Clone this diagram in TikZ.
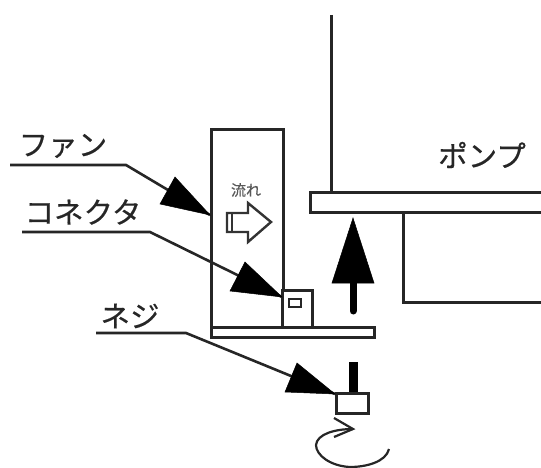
\documentclass[tikz,border=0pt]{standalone}
\usepackage{fontspec}
\newfontfamily\jpfont[FakeBold=0.4]{Noto Sans CJK JP}
\tikzset{
  every path/.style={line join=miter},
  part/.style={draw=black!85,line width=3pt,fill=white,inner sep=0pt,outer sep=0pt,minimum width=0pt},
  leader/.style={draw=black!85,line width=2.6pt},
  solidhead/.style={fill=black,draw=black,line width=.5pt,line join=miter},
  label/.style={font=\jpfont\fontsize{29.5}{29.5}\selectfont,text=black!85,inner sep=0pt,anchor=center},
}
\begin{document}
\begin{tikzpicture}[x=1pt,y=-1pt]
\useasboundingbox (0,0) rectangle (541,468);
% pump
\draw[part] (331,15) -- (331,192);
\draw[part,fill=none] (541,212) -- (403,212) -- (403,302) -- (541,302);
\draw[part] (541,192) -- (310,192) -- (310,212) -- (541,212);
% fan and plate
\node[part,minimum width=72pt,minimum height=197pt] (fan) at (247,228.5) {};
\node[part,minimum width=30pt,minimum height=37pt] (conn) at (297,308.5) {};
\node[part,line width=2pt,minimum width=12pt,minimum height=8pt] (slot) at (295,303) {};
\node[part,minimum width=163pt,minimum height=10pt] (plate) at (292.5,332) {};
% flow arrow
\draw[draw=black!80,line width=2.4pt,fill=white] (227,213) -- (248,213) -- (248,203) -- (271,222) -- (248,242) -- (248,232) -- (227,232) -- cycle;
\draw[draw=black!80,line width=2pt] (232,213) -- (232,232);
\node[font=\jpfont\fontsize{15}{15}\selectfont,text=black!65,inner sep=0pt] (flow) at (246,190) {流れ};
% up arrow
\draw[black,line width=7pt,line cap=round] (353,280) -- (353,311);
\fill[solidhead] (353,218) -- (374,283) -- (332,283) -- cycle;
% bolt
\draw[black,line width=9pt] (353,362) -- (353,393);
\node[part,minimum width=32pt,minimum height=20pt] (bolt) at (352,403) {};
% rotation
\coordinate (rotA) at (389,449);
\coordinate (rotB) at (353,429);
\draw[draw=black!85,line width=2.2pt] (rotA) .. controls (386,462) and (366,467) .. (350,467) .. controls (330,466) and (316,455) .. (316,445) .. controls (317,434) and (335,429) .. (rotB);
\draw[draw=black!85,line width=2.2pt] (334,418) -- (rotB) -- (334,437);
% leaders
\coordinate (fanS) at (10,165); \coordinate (fanC) at (126,165); \coordinate (fanT) at (210,215);
\draw[leader] (fanS) -- (fanC) -- (fanT);
\fill[solidhead] (fanT) -- (175,177) -- (160,204) -- cycle;
\coordinate (conS) at (22,232); \coordinate (conC) at (150,232); \coordinate (conT) at (282,297);
\draw[leader] (conS) -- (conC) -- (conT);
\fill[solidhead] (conT) -- (245,262) -- (230,291) -- cycle;
\coordinate (nejS) at (96,333); \coordinate (nejC) at (186,333); \coordinate (nejT) at (335,394);
\draw[leader] (nejS) -- (nejC) -- (nejT);
\fill[solidhead] (nejT) -- (297,363) -- (285,392) -- cycle;
% labels
\node[label] (lfan) at (63,146) {ファン};
\node[label] (lcon) at (83,212) {コネクタ};
\node[label] (lnej) at (130,316) {ネジ};
\node[label] (lpump) at (482,155) {ポンプ};
\end{tikzpicture}
\end{document}
